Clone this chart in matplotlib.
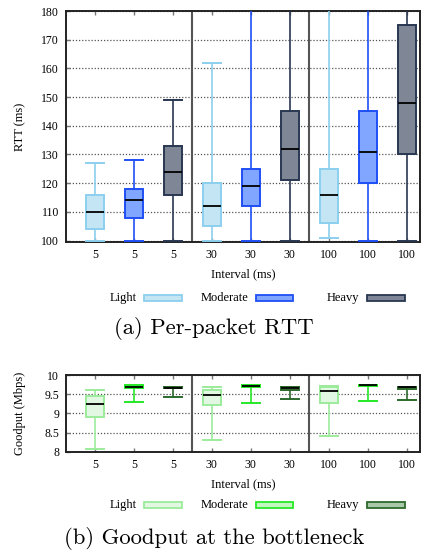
import matplotlib
matplotlib.use("Agg")
import matplotlib.pyplot as plt
from matplotlib.patches import Rectangle

# ---------------- data ----------------
intervals = ["5", "5", "5", "30", "30", "30", "100", "100", "100"]
loads = ["Light", "Moderate", "Heavy"]

# RTT (ms): whisker low, q1, median, q3, whisker high
rtt_wlo = [100, 100, 100, 100, 100, 100, 101, 100, 100]
rtt_q1 = [104, 108, 116, 105, 112, 121, 106, 120, 130]
rtt_med = [110, 114, 124, 112, 119, 132, 116, 131, 148]
rtt_q3 = [116, 118, 133, 120, 125, 145, 125, 145, 175]
rtt_whi = [127, 128, 149, 162, 200, 200, 200, 200, 200]

# Goodput (Mbps)
gp_wlo = [8.08, 9.30, 9.42, 8.30, 9.28, 9.38, 8.42, 9.32, 9.36]
gp_q1 = [8.90, 9.67, 9.65, 9.23, 9.70, 9.62, 9.27, 9.71, 9.63]
gp_med = [9.24, 9.70, 9.67, 9.48, 9.72, 9.66, 9.58, 9.73, 9.68]
gp_q3 = [9.45, 9.73, 9.70, 9.60, 9.73, 9.68, 9.70, 9.74, 9.70]
gp_whi = [9.60, 9.72, 9.70, 9.70, 9.73, 9.68, 9.72, 9.74, 9.70]

rtt_ticks = [100, 110, 120, 130, 140, 150, 160, 170, 180]
gp_ticks = [8, 8.5, 9, 9.5, 10]
gp_ticklabels = ["8", "8.5", "9", "9.5", "10"]

# ---------------- styles ----------------
rtt_fill = ["#c3e5f4", "#80a6ff", "#7f8797"]
rtt_edge = ["#8ccfee", "#1f4ff5", "#2a3752"]
gp_fill = ["#e2f8e2", "#c2f7c2", "#a9c8a9"]
gp_edge = ["#9ceb9c", "#27e827", "#2c6a2c"]

tick_font = dict(family="Liberation Serif", size=8.5)
label_font = dict(family="Liberation Serif", size=9)

fig = plt.figure(figsize=(4.21, 5.52), dpi=100)
W, H = 421, 552


def fx(px):
    return px / W


def fy(py):
    return 1 - py / H


def draw_panel(ax, wlo, q1, med, q3, whi, fills, edges, ylim, yticks, yticklabels, ylabel, ylabelpad):
    positions = list(range(1, len(intervals) + 1))
    stats = []
    for i in range(len(intervals)):
        stats.append(dict(whislo=wlo[i], q1=q1[i], med=med[i], q3=q3[i], whishi=whi[i], fliers=[]))
    for i, st in enumerate(stats):
        k = i % 3
        ax.bxp([st], positions=[positions[i]], widths=0.47, patch_artist=True,
               showfliers=False,
               boxprops=dict(facecolor=fills[k], edgecolor=edges[k], linewidth=1.4),
               whiskerprops=dict(color=edges[k], linewidth=1.2),
               capprops=dict(color=edges[k], linewidth=1.4),
               medianprops=dict(color="black", linewidth=1.3),
               capwidths=0.47, manage_ticks=False, zorder=3)
    ax.set_xlim(0.26, 9.34)
    ax.set_ylim(*ylim)
    ax.set_yticks(yticks)
    ax.set_yticklabels(yticklabels, **tick_font)
    ax.set_xticks(positions)
    ax.set_xticklabels(intervals, **tick_font)
    ax.tick_params(axis="both", direction="in", length=3, color="#777777", width=1.0,
                   top=True, right=False, pad=5)
    ax.grid(axis="y", linestyle=(0, (1, 1.5)), color="#555555", linewidth=0.9, zorder=1)
    ax.set_axisbelow(True)
    for s in ["left", "bottom", "top", "right"]:
        ax.spines[s].set_linewidth(1.4)
        ax.spines[s].set_color("#222222")
    for xs in [3.5, 6.5]:
        ax.axvline(xs, color="#555555", linewidth=1.5, zorder=2)
    ax.set_ylabel(ylabel, labelpad=ylabelpad, **label_font)
    ax.set_xlabel("Interval (ms)", labelpad=5, **label_font)


def draw_legend(ypix, fills, edges):
    entries = [(137, 144, 182), (248, 256, 293), (359, 367, 405)]
    for k, (txt_r, p0, p1) in enumerate(entries):
        fig.text(fx(txt_r), fy(ypix), loads[k], ha="right", va="center", **label_font)
        fig.add_artist(Rectangle((fx(p0), fy(ypix + 3)), fx(p1 - p0), (6 / H),
                                 facecolor=fills[k], edgecolor=edges[k], linewidth=1.3,
                                 transform=fig.transFigure))


ax1 = fig.add_axes([fx(66), fy(242), fx(420 - 66), (242 - 11) / H])
draw_panel(ax1, rtt_wlo, rtt_q1, rtt_med, rtt_q3, rtt_whi, rtt_fill, rtt_edge,
           (99.5, 180), rtt_ticks, [str(t) for t in rtt_ticks], "RTT (ms)", 11)

ax2 = fig.add_axes([fx(66), fy(452), fx(420 - 66), (452 - 375) / H])
draw_panel(ax2, gp_wlo, gp_q1, gp_med, gp_q3, gp_whi, gp_fill, gp_edge,
           (8, 10), gp_ticks, gp_ticklabels, "Goodput (Mbps)", 13)

draw_legend(298, rtt_fill, rtt_edge)
draw_legend(505, gp_fill, gp_edge)

fig.text(fx(214), fy(329), "(a) Per-packet RTT", ha="center", va="center",
         family="cmr10", size=16.3)
fig.text(fx(214), fy(538), "(b) Goodput at the bottleneck", ha="center", va="center",
         family="cmr10", size=16.3)

fig.savefig("out.png", dpi=100)
